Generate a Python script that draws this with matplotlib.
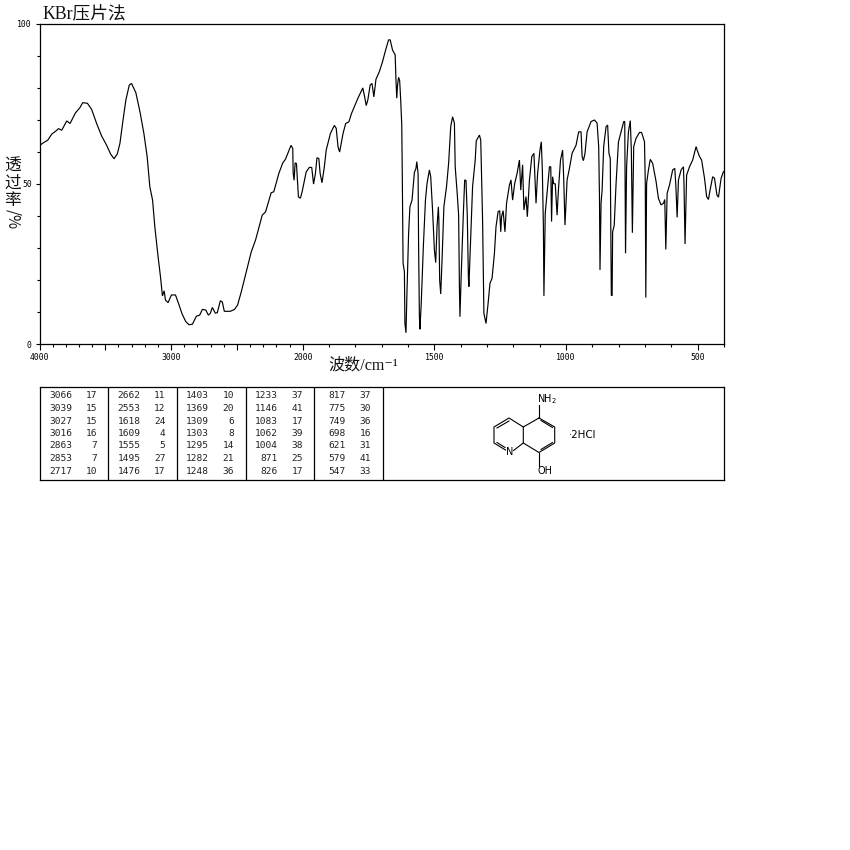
import numpy as np
import matplotlib
matplotlib.use("Agg")
import matplotlib.pyplot as plt
from matplotlib.ticker import FixedLocator, NullFormatter

CJK = ['Noto Sans CJK SC', 'DejaVu Sans']
SERIF = ['Liberation Serif', 'Noto Sans CJK SC', 'DejaVu Sans']
MONO = 'DejaVu Sans Mono'
plt.rcParams['font.family'] = CJK

wavenumber = [
    4000, 3970, 3937, 3907, 3874, 3856, 3831, 3793, 3768, 3727, 3692, 3672, 3636, 3604, 3566, 3528, 3490, 3460, 3434,
    3409, 3389, 3369, 3344, 3318, 3301, 3268, 3237, 3207, 3182, 3162, 3141, 3124, 3099, 3081, 3066, 3053, 3043, 3023,
    2998, 2967, 2940, 2917, 2889, 2864, 2838, 2808, 2783, 2763, 2737, 2717, 2702, 2687, 2664, 2649, 2626, 2611, 2596,
    2551, 2518, 2495, 2467, 2429, 2391, 2359, 2308, 2283, 2240, 2220, 2182, 2152, 2132, 2089, 2076, 2073, 2066, 2058,
    2048, 2033, 2018, 2005, 1987, 1975, 1966, 1959, 1952, 1946, 1939, 1934, 1927, 1918, 1911, 1895, 1880, 1873, 1866,
    1860, 1847, 1837, 1825, 1815, 1791, 1772, 1765, 1759, 1753, 1744, 1737, 1730, 1722, 1709, 1697, 1687, 1674, 1668,
    1659, 1649, 1646, 1643, 1640, 1636, 1632, 1628, 1624, 1622, 1619, 1614, 1612, 1608, 1604, 1598, 1593, 1585, 1576,
    1570, 1567, 1562, 1560, 1557, 1555, 1550, 1542, 1534, 1528, 1519, 1514, 1507, 1500, 1495, 1490, 1485, 1483, 1480,
    1476, 1471, 1464, 1454, 1446, 1438, 1431, 1424, 1421, 1413, 1408, 1405, 1403, 1398, 1390, 1385, 1380, 1375, 1371,
    1369, 1362, 1355, 1345, 1341, 1329, 1324, 1317, 1312, 1304, 1296, 1289, 1281, 1272, 1266, 1258, 1252, 1248, 1245,
    1239, 1236, 1232, 1226, 1215, 1209, 1203, 1195, 1186, 1177, 1172, 1165, 1160, 1152, 1147, 1139, 1130, 1122, 1114,
    1108, 1099, 1094, 1090, 1086, 1084, 1079, 1072, 1063, 1058, 1055, 1051, 1047, 1041, 1034, 1029, 1021, 1013, 1009,
    1004, 996, 987, 977, 962, 952, 943, 939, 934, 928, 920, 905, 892, 882, 876, 873, 871, 867, 863, 857, 848, 842, 837,
    832, 828, 825, 823, 817, 810, 801, 791, 781, 777, 774, 770, 763, 756, 752, 748, 743, 734, 721, 713, 702, 699, 697,
    694, 687, 680, 671, 658, 649, 639, 630, 625, 621, 616, 607, 595, 587, 583, 578, 573, 563, 554, 552, 548, 542, 531,
    519, 506, 502, 493, 485, 474, 466, 459, 453, 443, 436, 427, 421, 411, 402,
]
transmittance = [
    61.9, 62.8, 63.6, 65.5, 66.5, 67.2, 66.7, 69.6, 68.8, 72.1, 73.8, 75.3, 75.1, 73.2, 68.8, 64.9, 62.0, 59.3, 57.8,
    59.3, 62.6, 68.8, 76.1, 80.8, 81.3, 78.4, 72.5, 65.7, 58.4, 49.1, 44.9, 36.6, 27.2, 21.0, 15.0, 16.6, 13.7, 12.9,
    15.3, 15.3, 12.2, 9.4, 7.0, 6.0, 6.2, 8.7, 9.0, 10.8, 10.6, 9.0, 9.6, 11.4, 9.6, 9.8, 13.5, 13.1, 10.2,
    10.2, 10.8, 12.2, 16.3, 22.6, 28.8, 32.4, 40.2, 41.2, 47.2, 47.5, 53.2, 56.5, 57.6, 62.0, 61.0, 53.4, 51.1, 56.5,
    56.3, 45.9, 45.5, 47.5, 53.7, 55.1, 55.1, 49.9, 53.2, 58.1, 57.9, 53.2, 50.3, 55.3, 60.5, 65.7, 68.2, 67.3, 61.5,
    59.9, 65.7, 68.8, 69.3, 71.9, 76.6, 79.9, 77.1, 74.4, 76.1, 80.8, 81.3, 77.1, 82.6, 85.0, 88.1, 91.2, 94.9, 94.9,
    91.7, 90.2, 82.4, 76.7, 80.8, 83.2, 82.2, 76.1, 68.3, 52.7, 25.2, 22.6, 6.4, 3.5, 16.8, 34.5, 42.8, 44.9, 53.5,
    54.8, 56.9, 53.2, 30.4, 8.5, 4.6, 12.7, 30.4, 44.9, 50.1, 54.3, 52.2, 41.8, 29.3, 25.4, 36.6, 42.8, 38.7, 20.0,
    15.6, 26.2, 42.8, 49.1, 56.4, 67.8, 70.9, 68.9, 55.3, 46.5, 40.2, 17.9, 8.5, 22.0, 40.8, 51.2, 51.0, 39.7, 21.0,
    17.9, 33.5, 49.1, 57.4, 63.4, 65.2, 63.6, 38.7, 9.6, 6.4, 12.7, 18.9, 20.5, 28.3, 36.6, 41.3, 41.6, 35.0, 39.7,
    41.6, 38.7, 35.0, 43.9, 49.6, 51.2, 44.9, 50.1, 53.2, 57.4, 48.0, 55.9, 41.8, 46.0, 39.7, 51.2, 58.5, 59.5, 43.9,
    53.2, 60.5, 63.1, 54.3, 36.6, 15.0, 40.8, 47.0, 55.3, 55.3, 38.2, 52.2, 50.0, 50.0, 40.2, 48.0, 57.4, 60.5, 52.0,
    37.1, 51.2, 54.8, 59.5, 62.0, 66.2, 66.2, 58.5, 57.2, 59.5, 66.2, 69.4, 69.9, 68.9, 61.6, 46.0, 23.1, 43.9, 48.0,
    61.6, 67.8, 68.3, 59.5, 57.9, 15.3, 15.1, 35.0, 37.0, 50.0, 63.0, 66.2, 69.4, 69.4, 28.3, 55.3, 66.2, 69.7, 60.5,
    34.7, 61.6, 64.2, 66.0, 66.0, 63.1, 50.0, 14.5, 50.1, 54.3, 57.6, 56.4, 50.7, 45.4, 43.4, 43.9, 45.1, 29.5, 47.0,
    49.6, 54.3, 54.8, 49.6, 39.5, 51.2, 54.3, 55.3, 50.0, 31.2, 52.7, 55.3, 57.4, 61.6, 60.5, 58.5, 57.4, 51.7, 46.0,
    45.1, 48.0, 52.2, 51.7, 46.5, 45.8, 51.7, 53.8,
]

x_major = [4000, 3500, 3000, 2500, 2000, 1500, 1000, 500]
x_minor = [w for w in range(400, 4000, 100) if w not in x_major]
x_labels = {4000: "4000", 3000: "3000", 2000: "2000", 1500: "1500", 1000: "1000", 500: "500"}
y_major = [0, 50, 100]
y_minor = [10, 20, 30, 40, 60, 70, 80, 90]

peak_wn = [
    ["3066", "3039", "3027", "3016", "2863", "2853", "2717"],
    ["2662", "2553", "1618", "1609", "1555", "1495", "1476"],
    ["1403", "1369", "1309", "1303", "1295", "1282", "1248"],
    ["1233", "1146", "1083", "1062", "1004", "871", "826"],
    ["817", "775", "749", "698", "621", "579", "547"],
]
peak_t = [
    ["17", "15", "15", "16", "7", "7", "10"],
    ["11", "12", "24", "4", "5", "27", "17"],
    ["10", "20", "6", "8", "14", "21", "36"],
    ["37", "41", "17", "39", "38", "25", "17"],
    ["37", "30", "36", "16", "31", "41", "33"],
]

W, H = 850, 850
L, R, T, B = 39.5, 724.0, 23.5, 344.0


def rect(l, t, r, b):
    return [l / W, 1 - b / H, (r - l) / W, (b - t) / H]


def forward(x):
    x = np.asarray(x, dtype=float)
    return np.where(x < 2000, x, 2000 + (x - 2000) / 2)


def inverse(u):
    u = np.asarray(u, dtype=float)
    return np.where(u < 2000, u, 2000 + (u - 2000) * 2)


fig = plt.figure(figsize=(8.5, 8.5), dpi=100, facecolor='white')
ax = fig.add_axes(rect(L, T, R, B))
ax.set_xscale('function', functions=(forward, inverse))
ax.plot(wavenumber, transmittance, color='black', lw=0.85, solid_joinstyle='miter')
ax.set_xlim(4000, 400)
ax.set_ylim(0, 100)
for s in ax.spines.values():
    s.set_linewidth(0.9)
ax.xaxis.set_major_locator(FixedLocator(x_major))
ax.xaxis.set_minor_locator(FixedLocator(x_minor))
ax.xaxis.set_minor_formatter(NullFormatter())
ax.set_xticklabels([x_labels.get(w, "") for w in x_major], family=MONO, fontsize=5.9)
ax.yaxis.set_major_locator(FixedLocator(y_major))
ax.yaxis.set_minor_locator(FixedLocator(y_minor))
ax.yaxis.set_minor_formatter(NullFormatter())
ax.set_yticklabels([str(v) for v in y_major], family=MONO, fontsize=5.9)
ax.tick_params(axis='x', which='major', length=4, width=0.8, pad=2.5)
ax.tick_params(axis='x', which='minor', length=2.5, width=0.8)
ax.tick_params(axis='y', which='major', length=3, width=0.8, pad=2.5)
ax.tick_params(axis='y', which='minor', length=2.5, width=0.8)

fig.text(42 / W, 1 - 19 / H, "KBr压片法", fontsize=12.8, family=SERIF, va='baseline', ha='left', color='#111111')
fig.text(363.5 / W, 1 - 365 / H, "波数/cm⁻¹", fontsize=11.6, family=SERIF, va='center', ha='center', color='#111111')
fig.text(12.5 / W, 1 - 183 / H, "透\n过\n率", fontsize=12, family=CJK, va='center', ha='center',
         linespacing=1.0, color='#111111')
fig.text(12.5 / W, 1 - 219 / H, "/%", fontsize=11, family=CJK, va='center', ha='center', rotation=270, color='#111111')

# Peak table and structure drawn in a pixel-aligned panel
tb = fig.add_axes(rect(L, 387, R, 479.5))
tb.set_xlim(L, R)
tb.set_ylim(479.5, 387)
tb.set_xticks([])
tb.set_yticks([])
tb.patch.set_alpha(0)
for s in tb.spines.values():
    s.set_linewidth(0.9)
col_lines = [108, 176.5, 245.5, 313.5, 382.5]
col_left = [39.5, 108, 176.5, 245.5, 313.5]
row_y = [396, 408.5, 421, 433.5, 446, 458.5, 471]
for c in col_lines:
    tb.axvline(c, color='black', lw=0.9)
for i, left in enumerate(col_left):
    for j, y in enumerate(row_y):
        tb.text(left + 32.5, y, peak_wn[i][j], ha='right', va='center', fontsize=6.8, family=MONO, color='#222222')
        tb.text(left + 57.5, y, peak_t[i][j], ha='right', va='center', fontsize=6.8, family=MONO, color='#222222')

# 5-amino-8-hydroxyquinoline skeleton
right_ring = np.array([[539, 418], [554.7, 427], [554.7, 443], [539, 452.5], [523.3, 443], [523.3, 427], [539, 418]])
left_path = np.array([[523.3, 427], [509, 418], [494, 427], [494, 443], [505.5, 450]])
tb.plot(right_ring[:, 0], right_ring[:, 1], color='black', lw=0.8)
tb.plot(left_path[:, 0], left_path[:, 1], color='black', lw=0.8)
tb.plot([513.5, 523.3], [450.5, 443], color='black', lw=0.8)
tb.plot([539, 539], [418, 404.5], color='black', lw=0.8)
tb.plot([539, 539], [452.5, 466], color='black', lw=0.8)
for seg in [([541, 552.5], [420.5, 427.5]), ([552.5, 541], [442.5, 449.5]), ([509, 497], [421, 428]),
            ([497, 505], [442.5, 447.5])]:
    tb.plot(seg[0], seg[1], color='black', lw=0.8)
tb.text(509.5, 452, "N", ha='center', va='center', fontsize=7, family='DejaVu Sans')
tb.text(547, 399, "NH$_2$", ha='center', va='center', fontsize=7, family='DejaVu Sans')
tb.text(544.5, 470.5, "OH", ha='center', va='center', fontsize=7, family='DejaVu Sans')
tb.text(582.5, 435, "·2HCl", ha='center', va='center', fontsize=7.4, family='DejaVu Sans')

fig.savefig("out.png", dpi=100, facecolor='white')
